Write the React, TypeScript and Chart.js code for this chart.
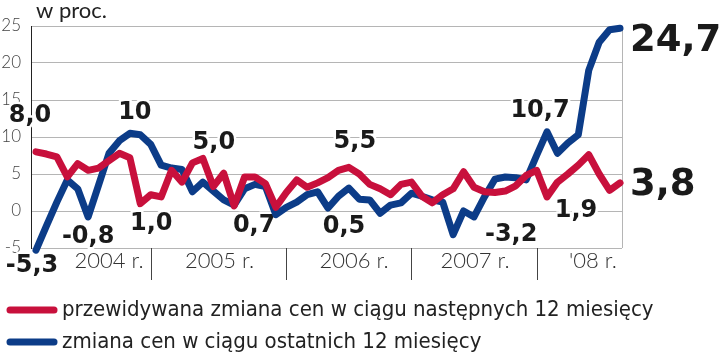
import React, { useEffect, useRef } from 'react';
import { Chart, registerables } from 'chart.js';

Chart.register(...registerables);

// Monthly observations, Jan 2004 - Sep 2008 (index 0..56)
const months: string[] = [];
for (let y = 2004; y <= 2008; y++) {
  for (let m = 1; m <= 12; m++) {
    if (y === 2008 && m > 9) break;
    months.push(`${y}-${String(m).padStart(2, '0')}`);
  }
}

// przewidywana zmiana cen w ciągu następnych 12 miesięcy
const expectedChange = [
  8.0, 7.7, 7.3, 4.6, 6.4, 5.5, 5.8, 6.8, 7.8, 7.2,
  1.0, 2.2, 1.9, 5.5, 3.9, 6.5, 7.1, 3.3, 5.1, 0.7,
  4.6, 4.6, 3.7, 0.5, 2.5, 4.2, 3.2, 3.8, 4.5, 5.5,
  5.9, 5.0, 3.6, 3.0, 2.2, 3.6, 3.9, 2.0, 1.1, 2.2,
  3.0, 5.3, 3.2, 2.6, 2.5, 2.7, 3.4, 4.8, 5.5, 1.9,
  3.9, 5.0, 6.2, 7.6, 5.0, 2.8, 3.8,
];

// zmiana cen w ciągu ostatnich 12 miesięcy
const pastChange = [
  -5.3, -2.0, 1.2, 4.2, 3.0, -0.8, 3.5, 7.8, 9.5, 10.5,
  10.3, 9.0, 6.2, 5.8, 5.6, 2.6, 3.9, 2.7, 1.5, 0.8,
  3.0, 3.6, 3.3, -0.5, 0.5, 1.2, 2.2, 2.6, 0.4, 2.0,
  3.1, 1.6, 1.5, -0.3, 0.8, 1.1, 2.4, 2.0, 1.5, 1.2,
  -3.2, 0.0, -0.8, 1.9, 4.3, 4.6, 4.5, 4.2, 7.5, 10.7,
  7.8, 9.2, 10.3, 19.0, 22.8, 24.5, 24.7,
];

const seriesNames = [
  'przewidywana zmiana cen w ciągu następnych 12 miesięcy',
  'zmiana cen w ciągu ostatnich 12 miesięcy',
];
const seriesColors = ['#c8103c', '#0c3c88'];

const yTickValues = [-5, 0, 5, 10, 15, 20, 25];
const yearLabels = ['2004 r.', '2005 r.', '2006 r.', '2007 r.', "'08 r."];
const yearLabelAt = [7.0, 17.6, 30.5, 42.1, 53.4]; // month index of label centre
const yearBreaks = [11, 24, 36, 48]; // month index of separators
const unitLabel = 'w proc.';

// value callouts: text, series, point index, offset (px) of text centre from point
const callouts = [
  { text: '8,0', series: 0, index: 0, dx: -6, dy: -36, big: false },
  { text: '-5,3', series: 1, index: 0, dx: -4, dy: 16, big: false },
  { text: '-0,8', series: 1, index: 5, dx: 0, dy: 20, big: false },
  { text: '10', series: 1, index: 9, dx: 5, dy: -21, big: false },
  { text: '1,0', series: 0, index: 10, dx: 11, dy: 20, big: false },
  { text: '5,0', series: 0, index: 16, dx: 11, dy: -16, big: false },
  { text: '0,7', series: 0, index: 19, dx: 20, dy: 20, big: false },
  { text: '5,5', series: 0, index: 30, dx: 6, dy: -26, big: false },
  { text: '0,5', series: 1, index: 28, dx: 16, dy: 19, big: false },
  { text: '-3,2', series: 1, index: 40, dx: 58, dy: 0, big: false },
  { text: '10,7', series: 1, index: 49, dx: -7, dy: -21, big: false },
  { text: '1,9', series: 0, index: 49, dx: 29, dy: 14, big: false },
  { text: '24,7', series: 1, index: 56, dx: 10, dy: 13, big: true },
  { text: '3,8', series: 0, index: 56, dx: 10, dy: 3, big: true },
];

const decorPlugin = {
  id: 'decor',
  beforeDatasetsDraw(chart: any) {
    const { ctx, chartArea, scales } = chart;
    const x = scales.x;
    ctx.save();
    // right border
    ctx.strokeStyle = '#b5b5b5';
    ctx.lineWidth = 1;
    ctx.beginPath();
    ctx.moveTo(Math.round(chartArea.right) + 0.5, chartArea.top);
    ctx.lineTo(Math.round(chartArea.right) + 0.5, chartArea.bottom);
    ctx.stroke();
    // year separators
    ctx.strokeStyle = '#444';
    yearBreaks.forEach((b) => {
      const px = Math.round(x.getPixelForValue(b)) + 0.5;
      ctx.beginPath();
      ctx.moveTo(px, chartArea.bottom);
      ctx.lineTo(px, chartArea.bottom + 32);
      ctx.stroke();
    });
    // callouts
    callouts.forEach((c) => {
      const meta = chart.getDatasetMeta(c.series);
      const pt = meta.data[c.index];
      if (!pt) return;
      ctx.font = `bold ${c.big ? 37 : 24}px "DejaVu Sans", sans-serif`;
      ctx.textBaseline = 'middle';
      ctx.textAlign = c.big ? 'left' : 'center';
      ctx.lineJoin = 'round';
      ctx.strokeStyle = '#ffffff';
      ctx.lineWidth = 5;
      ctx.strokeText(c.text, pt.x + c.dx, pt.y + c.dy);
      ctx.fillStyle = '#1a1a1a';
      ctx.fillText(c.text, pt.x + c.dx, pt.y + c.dy);
    });
    ctx.restore();
  },
  afterDraw(chart: any) {
    const { ctx } = chart;
    ctx.save();
    // unit label
    ctx.font = '22px Lato, sans-serif';
    ctx.fillStyle = '#222';
    ctx.textAlign = 'left';
    ctx.textBaseline = 'alphabetic';
    ctx.fillText(unitLabel, 36, 18);
    // legend
    const rows = [310, 342];
    chart.data.datasets.forEach((ds: any, i: number) => {
      const y = rows[i];
      ctx.strokeStyle = ds.borderColor;
      ctx.lineWidth = 7;
      ctx.lineCap = 'round';
      ctx.beginPath();
      ctx.moveTo(10, y);
      ctx.lineTo(54, y);
      ctx.stroke();
      ctx.fillStyle = '#222';
      ctx.font = '22px "Liberation Sans Narrow", "DejaVu Sans Condensed", sans-serif';
      ctx.textBaseline = 'middle';
      ctx.fillText(ds.label, 62, y);
    });
    ctx.restore();
  },
};

export default function App() {
  const canvasRef = useRef<HTMLCanvasElement | null>(null);

  useEffect(() => {
    document.body.style.margin = '0';
    const canvas = canvasRef.current;
    if (!canvas) return;
    const chart = new Chart(canvas, {
      type: 'line',
      data: {
        labels: months,
        datasets: [
          {
            label: seriesNames[0],
            data: expectedChange.map((v, i) => ({ x: i, y: v })),
            borderColor: seriesColors[0],
            backgroundColor: seriesColors[0],
            borderWidth: 7,
            pointRadius: 0,
            tension: 0,
            borderJoinStyle: 'round',
            borderCapStyle: 'round',
            clip: false,
            order: 1,
          },
          {
            label: seriesNames[1],
            data: pastChange.map((v, i) => ({ x: i, y: v })),
            borderColor: seriesColors[1],
            backgroundColor: seriesColors[1],
            borderWidth: 7,
            pointRadius: 0,
            tension: 0,
            borderJoinStyle: 'round',
            borderCapStyle: 'round',
            clip: false,
            order: 2,
          },
        ],
      },
      options: {
        responsive: false,
        animation: false,
        events: [],
        layout: { padding: { top: 26, right: 98, left: 0, bottom: 0 } },
        plugins: { legend: { display: false }, tooltip: { enabled: false } },
        scales: {
          x: {
            type: 'linear',
            min: -0.48,
            max: 56.19,
            afterBuildTicks: (s: any) => {
              s.ticks = yearLabelAt.map((v) => ({ value: v }));
            },
            afterFit: (s: any) => {
              s.height = 105;
            },
            ticks: {
              callback: (_v: any, idx: number) => yearLabels[idx],
              font: { family: 'Lato', size: 22, weight: '300' },
              color: '#333',
              padding: 0,
              maxRotation: 0,
              autoSkip: false,
            },
            grid: { display: false, drawTicks: false },
            border: { display: false },
          },
          y: {
            min: -5,
            max: 25,
            afterBuildTicks: (s: any) => {
              s.ticks = yTickValues.map((v) => ({ value: v }));
            },
            afterFit: (s: any) => {
              s.width = 31;
            },
            ticks: {
              font: { family: 'Lato', size: 17, weight: '300' },
              color: '#444',
              padding: 10,
            },
            grid: { color: '#b5b5b5', lineWidth: 1, drawTicks: false },
            border: { display: true, color: '#222', width: 1 },
          },
        },
      },
      plugins: [decorPlugin],
    });
    return () => chart.destroy();
  }, []);

  return (
    <div style={{ width: 720, height: 353 }}>
      <canvas ref={canvasRef} width={720} height={353} style={{ display: 'block' }} />
    </div>
  );
}
